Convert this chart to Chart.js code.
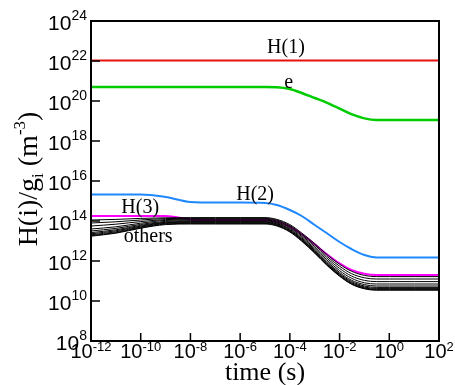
<!DOCTYPE html>
<html>
<head>
<meta charset="utf-8">
<script src="https://cdn.jsdelivr.net/npm/chart.js@4.4.1/dist/chart.umd.min.js"></script>
<style>
  html, body { margin: 0; padding: 0; background: #fff; }
</style>
</head>
<body>
<canvas id="popChart" width="455" height="385"></canvas>
<script>
// time grid (s)
const times = [1e-12, 1e-11, 1e-10, 1e-9, 1e-8, 1e-7, 1e-6, 1e-5, 3e-5, 1e-4,
               3e-4, 1e-3, 3e-3, 1e-2, 3e-2, 1e-1, 3e-1, 1, 10, 100];

// log10 of H(i)/g_i in m^-3 at each time
const logH1 = [22.03, 22.03, 22.03, 22.03, 22.03, 22.03, 22.03, 22.03, 22.03, 22.03,
               22.03, 22.03, 22.03, 22.03, 22.03, 22.03, 22.03, 22.03, 22.03, 22.03];
const logE  = [20.7, 20.7, 20.7, 20.7, 20.7, 20.7, 20.7, 20.7, 20.69, 20.6,
               20.4, 20.15, 19.92, 19.62, 19.34, 19.13, 19.05, 19.05, 19.05, 19.05];
const logH2 = [15.33, 15.33, 15.33, 15.2, 14.95, 14.92, 14.92, 14.9, 14.8, 14.55,
               14.25, 13.8, 13.4, 12.95, 12.6, 12.3, 12.18, 12.17, 12.17, 12.17];
const logH3 = [14.25, 14.25, 14.25, 14.25, 14.08, 14.05, 14.05, 14.05, 13.97, 13.72,
               13.34, 12.84, 12.35, 11.88, 11.55, 11.36, 11.3, 11.3, 11.3, 11.3];
const logOthers = [
  [14.05, 14.08, 14.13, 14.16, 14.17, 14.17, 14.17, 14.17, 14.08, 13.82, 13.40, 12.87, 12.34, 11.84, 11.49, 11.28, 11.22, 11.22, 11.22, 11.22],
  [13.90, 13.96, 14.05, 14.12, 14.13, 14.13, 14.13, 14.13, 14.04, 13.77, 13.34, 12.80, 12.25, 11.74, 11.37, 11.16, 11.10, 11.10, 11.10, 11.10],
  [13.75, 13.84, 13.97, 14.07, 14.09, 14.09, 14.09, 14.09, 14.00, 13.72, 13.28, 12.72, 12.16, 11.63, 11.25, 11.03, 10.97, 10.97, 10.97, 10.97],
  [13.60, 13.71, 13.89, 14.03, 14.05, 14.05, 14.05, 14.05, 13.95, 13.67, 13.22, 12.64, 12.07, 11.52, 11.14, 10.91, 10.85, 10.85, 10.85, 10.85],
  [13.50, 13.63, 13.83, 13.98, 14.01, 14.01, 14.01, 14.01, 13.91, 13.62, 13.16, 12.58, 11.99, 11.43, 11.04, 10.82, 10.75, 10.75, 10.75, 10.75],
  [13.42, 13.56, 13.78, 13.94, 13.97, 13.97, 13.97, 13.97, 13.87, 13.58, 13.11, 12.52, 11.93, 11.37, 10.98, 10.75, 10.68, 10.68, 10.68, 10.68],
  [13.36, 13.51, 13.74, 13.91, 13.94, 13.94, 13.94, 13.94, 13.84, 13.54, 13.08, 12.48, 11.89, 11.33, 10.93, 10.70, 10.63, 10.63, 10.63, 10.63],
  [13.31, 13.46, 13.70, 13.88, 13.91, 13.91, 13.91, 13.91, 13.81, 13.51, 13.05, 12.45, 11.85, 11.29, 10.89, 10.66, 10.59, 10.59, 10.59, 10.59],
  [13.27, 13.42, 13.67, 13.85, 13.88, 13.88, 13.88, 13.88, 13.78, 13.48, 13.02, 12.42, 11.82, 11.26, 10.86, 10.63, 10.56, 10.56, 10.56, 10.56],
  [13.24, 13.39, 13.64, 13.82, 13.85, 13.85, 13.85, 13.85, 13.75, 13.45, 12.99, 12.39, 11.80, 11.24, 10.84, 10.61, 10.54, 10.54, 10.54, 10.54]
];

// decade exponents for the axis ticks
const xTickExp = [-12, -10, -8, -6, -4, -2, 0, 2];
const yTickExp = [8, 10, 12, 14, 16, 18, 20, 22, 24];

// curve labels: text, time, density
const curveLabels = [
  ['H(1)', 7e-5, 2.5e22],
  ['e', 9e-5, 4.5e20],
  ['H(2)', 4e-6, 1.1e15],
  ['H(3)', 9.5e-11, 2.5e14],
  ['others', 2e-10, 9e12]
];

const SANS = '"Liberation Sans", Arial, sans-serif';
const SERIF = '"Liberation Serif", "Times New Roman", serif';

function toPoints(logs) {
  return times.map((t, i) => ({x: t, y: Math.pow(10, logs[i])}));
}

function series(logs, color, width) {
  return {
    data: toPoints(logs),
    borderColor: color,
    borderWidth: width,
    pointRadius: 0,
    fill: false,
    cubicInterpolationMode: 'monotone'
  };
}

// draws text made of runs with their own font and baseline shift
function richText(ctx, parts, x, y, align) {
  let w = 0;
  parts.forEach(p => { ctx.font = p[1]; w += ctx.measureText(p[0]).width; });
  let cx = align === 'right' ? x - w : align === 'center' ? x - w / 2 : x;
  ctx.textAlign = 'left';
  ctx.textBaseline = 'alphabetic';
  parts.forEach(p => {
    ctx.font = p[1];
    ctx.fillText(p[0], cx, y - p[2]);
    cx += ctx.measureText(p[0]).width;
  });
}

const decor = {
  id: 'decor',
  afterDatasetsDraw(chart) {
    const {ctx, chartArea: a, scales: {x, y}} = chart;
    ctx.save();
    ctx.fillStyle = '#000';
    ctx.strokeStyle = '#000';

    // frame
    ctx.lineWidth = 2;
    ctx.strokeRect(a.left, a.top, a.right - a.left, a.bottom - a.top);

    // inward ticks
    ctx.lineWidth = 1.5;
    ctx.beginPath();
    yTickExp.forEach(p => {
      const py = y.getPixelForValue(Math.pow(10, p));
      ctx.moveTo(a.left, py);
      ctx.lineTo(a.left + 9, py);
    });
    xTickExp.forEach(p => {
      const px = x.getPixelForValue(Math.pow(10, p));
      ctx.moveTo(px, a.bottom);
      ctx.lineTo(px, a.bottom - 8);
    });
    ctx.stroke();

    // tick labels
    yTickExp.forEach(p => {
      const py = y.getPixelForValue(Math.pow(10, p));
      richText(ctx, [['10', '21px ' + SANS, 0], [String(p), '14px ' + SANS, 10]],
        a.left - 4, py + 9, 'right');
    });
    xTickExp.forEach(p => {
      const px = x.getPixelForValue(Math.pow(10, p));
      richText(ctx, [['10', '20px ' + SANS, 0], [String(p), '13px ' + SANS, 7]],
        px, a.bottom + 17, 'center');
    });

    // axis titles
    richText(ctx, [['time (s)', '26px ' + SERIF, 0]], (a.left + a.right) / 2, 380, 'center');
    ctx.save();
    ctx.translate(37, 179);
    ctx.rotate(-Math.PI / 2);
    richText(ctx, [
      ['H(i)/g', '28px ' + SERIF, 0],
      ['i', '17px ' + SERIF, -6],
      [' (m', '28px ' + SERIF, 0],
      ['-3', '17px ' + SERIF, 12],
      [')', '28px ' + SERIF, 0]
    ], 0, 0, 'center');
    ctx.restore();

    // curve labels
    curveLabels.forEach(([txt, t, v]) => {
      richText(ctx, [[txt, '20px ' + SERIF, 0]], x.getPixelForValue(t), y.getPixelForValue(v), 'center');
    });
    ctx.restore();
  }
};

const datasets = [];
logOthers.forEach(l => datasets.push(series(l, '#000000', 1)));
datasets.push(series(logH3, '#ff00ff', 2));
datasets.push(series(logH2, '#1e88ff', 2));
datasets.push(series(logE, '#00cc00', 2.5));
datasets.push(series(logH1, '#e81010', 2));

new Chart(document.getElementById('popChart'), {
  type: 'line',
  data: {datasets},
  options: {
    responsive: false,
    animation: false,
    devicePixelRatio: 1,
    layout: {padding: {left: 91, top: 21, right: 16, bottom: 44}},
    plugins: {legend: {display: false}, tooltip: {enabled: false}},
    scales: {
      x: {type: 'logarithmic', min: 1e-12, max: 1e2, display: false},
      y: {type: 'logarithmic', min: 1e8, max: 1e24, display: false}
    }
  },
  plugins: [decor]
});
</script>
</body>
</html>
